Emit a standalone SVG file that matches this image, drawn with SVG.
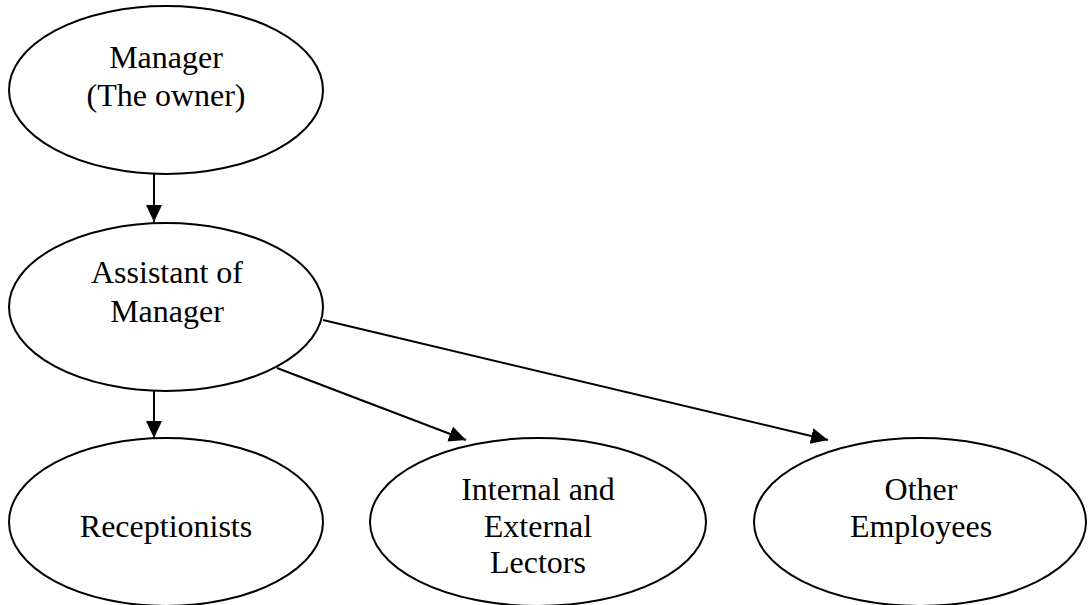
<svg xmlns="http://www.w3.org/2000/svg" width="1088" height="605" viewBox="0 0 1088 605">
<style>
.node ellipse{fill:#fff;stroke:#000;stroke-width:2}
.node text{font-family:"Liberation Serif","Times New Roman",serif;font-size:32px;fill:#000;text-anchor:middle}
.edges line{stroke:#000;stroke-width:2}
</style>
<defs>
<marker id="arr" markerUnits="userSpaceOnUse" markerWidth="17" markerHeight="17" viewBox="0 0 17 17" refX="17" refY="8.5" orient="auto">
<path d="M0,0.5 L17,8.5 L0,16.5 z" fill="#000"/>
</marker>
</defs>
<rect width="1088" height="605" fill="#fff"/>
<g id="n-manager" class="node">
<ellipse cx="166" cy="90" rx="157" ry="84"/>
<text x="166" y="68">Manager</text>
<text x="166" y="106">(The owner)</text>
</g>
<g id="n-assistant" class="node">
<ellipse cx="166" cy="307" rx="157" ry="84"/>
<text x="167" y="283">Assistant of</text>
<text x="167" y="322">Manager</text>
</g>
<g id="n-reception" class="node">
<ellipse cx="166" cy="522" rx="157" ry="84"/>
<text x="166" y="537">Receptionists</text>
</g>
<g id="n-lectors" class="node">
<ellipse cx="538" cy="522" rx="168" ry="84"/>
<text x="538" y="500">Internal and</text>
<text x="538" y="537">External</text>
<text x="538" y="573">Lectors</text>
</g>
<g id="n-other" class="node">
<ellipse cx="920" cy="522" rx="166" ry="84"/>
<text x="921" y="500">Other</text>
<text x="921" y="537">Employees</text>
</g>
<g id="edges" class="edges">
<line x1="154" y1="174" x2="154" y2="222" marker-end="url(#arr)"/>
<line x1="154" y1="391" x2="154" y2="438" marker-end="url(#arr)"/>
<line x1="277" y1="368" x2="466" y2="440" marker-end="url(#arr)"/>
<line x1="323" y1="320" x2="828" y2="440" marker-end="url(#arr)"/>
</g>
</svg>
